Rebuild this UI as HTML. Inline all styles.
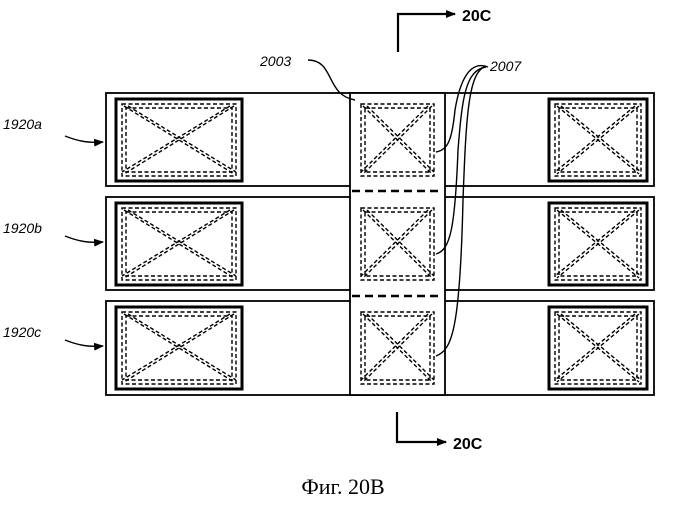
<!DOCTYPE html>
<html><head><meta charset="utf-8"><style>body{margin:0;background:#fff}</style></head><body>
<svg width="685" height="500" xmlns="http://www.w3.org/2000/svg" font-family="Liberation Sans, sans-serif">
<defs>
<marker id="ar" markerWidth="10" markerHeight="8" refX="9" refY="4" orient="auto" markerUnits="userSpaceOnUse"><path d="M0,0 L10,4 L0,8 z" fill="#000"/></marker>
</defs>
<g stroke="#000" fill="none">
<rect x="106" y="93" width="548" height="93" stroke-width="1.8"/>
<rect x="106" y="197" width="548" height="93" stroke-width="1.8"/>
<rect x="106" y="301" width="548" height="94" stroke-width="1.8"/>
<rect x="350" y="93" width="95" height="302" fill="#fff" stroke-width="1.8"/>
<line x1="352" y1="191" x2="443" y2="191" stroke-width="2.5" stroke-dasharray="8,5"/>
<line x1="352" y1="296" x2="443" y2="296" stroke-width="2.5" stroke-dasharray="8,5"/>
</g>
<g stroke="#000" fill="none" stroke-width="1.4" stroke-dasharray="4,2.5">
<g id="L"><rect x="122" y="104" width="114" height="72"/><rect x="126" y="108" width="106" height="64"/><line x1="124" y1="106" x2="234" y2="174"/><line x1="128" y1="106" x2="236" y2="172"/><line x1="234" y1="106" x2="124" y2="174"/><line x1="230" y1="106" x2="122" y2="172"/></g>
<use href="#L" y="104"/><use href="#L" y="208"/>
<g id="R"><rect x="555" y="104" width="86" height="72"/><rect x="559" y="108" width="78" height="64"/><line x1="557" y1="106" x2="639" y2="174"/><line x1="561" y1="106" x2="641" y2="172"/><line x1="639" y1="106" x2="557" y2="174"/><line x1="635" y1="106" x2="555" y2="172"/></g>
<use href="#R" y="104"/><use href="#R" y="208"/>
<g id="C"><rect x="361" y="104" width="73" height="72"/><rect x="365" y="108" width="65" height="64"/><line x1="363" y1="106" x2="432" y2="174"/><line x1="367" y1="106" x2="434" y2="172"/><line x1="432" y1="106" x2="363" y2="174"/><line x1="428" y1="106" x2="361" y2="172"/></g>
<use href="#C" y="104"/><use href="#C" y="208"/>
</g>
<g stroke="#000" fill="none" stroke-width="3">
<rect x="116" y="99" width="126" height="82"/><rect x="116" y="203" width="126" height="82"/><rect x="116" y="307" width="126" height="82"/>
<rect x="549" y="99" width="98" height="82"/><rect x="549" y="203" width="98" height="82"/><rect x="549" y="307" width="98" height="82"/>
</g>
<g stroke="#000" fill="none" stroke-width="1.4">
<path d="M398,52 V14 H455" marker-end="url(#ar)" stroke-width="2.2"/>
<path d="M397,412 V442 H446" marker-end="url(#ar)" stroke-width="2.2"/>
<path d="M308,60 C335,60 325,95 355,100"/>
<path d="M488,67 C470,60 460,80 455,110 C452,140 448,150 436,152"/>
<path d="M486,67 C465,70 462,100 458,150 C455,230 450,250 436,254"/>
<path d="M484,67 C468,75 466,120 463,200 C460,330 452,350 436,356"/>
<path d="M65,136 C80,142 90,143 103,142" marker-end="url(#ar)"/>
<path d="M65,236 C80,242 90,243 103,242" marker-end="url(#ar)"/>
<path d="M65,340 C80,346 90,347 103,346" marker-end="url(#ar)"/>
</g>
<g font-style="italic" font-size="14" fill="#000">
<text x="260" y="66">2003</text><text x="490" y="71">2007</text>
<text x="3" y="129">1920a</text><text x="3" y="233">1920b</text><text x="3" y="337">1920c</text>
</g>
<g font-weight="bold" font-size="16" fill="#000"><text x="462" y="21">20C</text><text x="453" y="449">20C</text></g>
<text x="343" y="494" font-family="Liberation Serif, serif" font-size="22" text-anchor="middle">Фиг. 20B</text>
</svg>
</body></html>
